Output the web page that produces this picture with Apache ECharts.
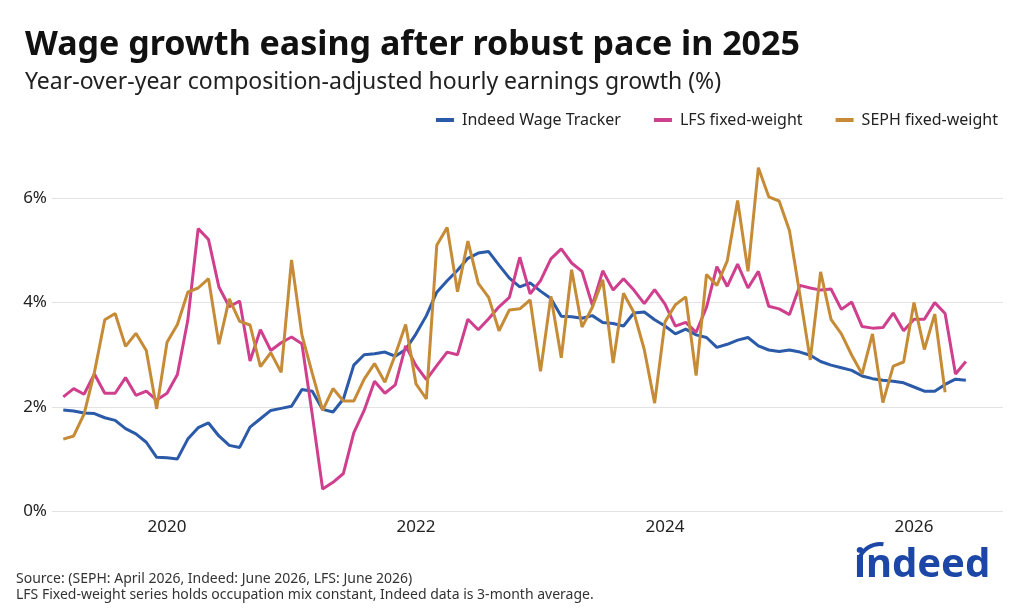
<!DOCTYPE html>
<html>
<head>
<meta charset="utf-8">
<script src="https://cdn.jsdelivr.net/npm/echarts@6/dist/echarts.min.js"></script>
<style>
html,body{margin:0;padding:0;background:#fff;}
#chart{width:1024px;height:614px;}
</style>
</head>
<body>
<div id="chart"></div>
<script>
// Monthly series, first value = March 2019
const startYear = 2019;
const startMonth = 3;

const indeedWage = [1.94,1.92,1.88,1.87,1.79,1.74,1.58,1.48,1.32,1.03,1.02,1.00,
  1.38,1.60,1.69,1.44,1.26,1.22,1.61,1.77,1.93,1.97,2.01,2.33,
  2.30,1.95,1.90,2.15,2.80,3.00,3.02,3.05,2.97,3.10,3.40,3.75,
  4.20,4.42,4.62,4.85,4.95,4.98,4.72,4.47,4.30,4.38,4.22,4.08,
  3.74,3.73,3.70,3.75,3.62,3.60,3.55,3.80,3.82,3.67,3.55,3.40,
  3.49,3.38,3.33,3.14,3.20,3.28,3.33,3.17,3.09,3.06,3.09,3.05,
  2.99,2.87,2.80,2.75,2.70,2.59,2.54,2.51,2.49,2.46,2.38,2.30,
  2.30,2.43,2.53,2.51];

const lfsFixed = [2.19,2.35,2.24,2.63,2.26,2.26,2.56,2.22,2.30,2.13,2.26,2.62,
  3.66,5.42,5.21,4.30,3.92,4.03,2.88,3.48,3.08,3.23,3.34,3.21,
  1.85,0.42,0.55,0.72,1.50,1.93,2.49,2.26,2.42,3.17,2.79,2.52,
  2.79,3.05,3.00,3.68,3.48,3.69,3.92,4.10,4.87,4.17,4.42,4.84,
  5.03,4.76,4.60,3.95,4.61,4.24,4.46,4.24,3.98,4.25,3.97,3.55,
  3.62,3.43,3.91,4.69,4.31,4.74,4.28,4.60,3.93,3.88,3.77,4.33,
  4.28,4.24,4.26,3.87,4.01,3.54,3.51,3.52,3.80,3.46,3.68,3.68,
  4.00,3.79,2.63,2.87];

const sephFixed = [1.38,1.44,1.86,2.66,3.67,3.79,3.16,3.41,3.08,1.96,3.24,3.58,
  4.20,4.28,4.46,3.20,4.07,3.64,3.57,2.77,3.04,2.66,4.82,3.38,
  2.64,1.93,2.35,2.11,2.11,2.53,2.83,2.47,3.00,3.58,2.44,2.15,
  5.10,5.44,4.21,5.18,4.37,4.10,3.46,3.86,3.88,4.05,2.68,4.12,
  2.94,4.63,3.53,3.91,4.44,2.84,4.18,3.81,3.10,2.07,3.63,3.96,
  4.11,2.60,4.54,4.33,4.80,5.96,4.60,6.59,6.03,5.95,5.38,4.15,
  2.90,4.59,3.68,3.40,2.99,2.63,3.40,2.08,2.78,2.86,4.00,3.10,
  3.78,2.28];

const seriesNames = ['Indeed Wage Tracker', 'LFS fixed-weight', 'SEPH fixed-weight'];
const yearTicks = [2020, 2022, 2024, 2026];

function toX(i) { return startYear + (startMonth - 1 + i) / 12; }
function pairs(arr) { return arr.map((v, i) => [toX(i), v]); }

const FONT = '"Noto Sans", sans-serif';
const colors = ['#2a5aa8', '#cf3f8d', '#c68b36'];

const chart = echarts.init(document.getElementById('chart'), null, {renderer: 'canvas'});
chart.setOption({
  animation: false,
  backgroundColor: '#ffffff',
  textStyle: {fontFamily: FONT},
  title: [
    {text: 'Wage growth easing after robust pace in 2025', left: 20, top: 19,
     textStyle: {fontSize: 34, fontWeight: 'bold', color: '#111', fontFamily: FONT, lineHeight: 42}},
    {text: 'Year-over-year composition-adjusted hourly earnings growth (%)', left: 20, top: 62,
     textStyle: {fontSize: 23, fontWeight: 'normal', color: '#222', fontFamily: FONT, lineHeight: 30}},
    {text: 'Source: (SEPH: April 2026, Indeed: June 2026, LFS: June 2026)\nLFS Fixed-weight series holds occupation mix constant, Indeed data is 3-month average.',
     left: 11, top: 566,
     textStyle: {fontSize: 14, fontWeight: 'normal', color: '#333', fontFamily: FONT, lineHeight: 16}}
  ],
  legend: {
    data: seriesNames,
    right: 21, top: 107,
    icon: 'rect', itemWidth: 18, itemHeight: 4, itemGap: 33,
    textStyle: {fontSize: 16, color: '#222', fontFamily: FONT, padding: [0, 0, 0, 3]}
  },
  grid: {left: 52, right: 21, top: 198.4, bottom: 103},
  xAxis: {
    type: 'value',
    min: 2019.076, max: 2026.715,
    axisLine: {show: false}, axisTick: {show: false}, splitLine: {show: false},
    axisLabel: {customValues: yearTicks, formatter: v => String(Math.round(v)),
      fontSize: 17, color: '#222', margin: 8, fontFamily: FONT}
  },
  yAxis: {
    type: 'value', min: 0, max: 6, interval: 2,
    axisLine: {show: false}, axisTick: {show: false},
    axisLabel: {formatter: '{value}%', fontSize: 17, color: '#222', margin: 5, fontFamily: FONT},
    splitLine: {lineStyle: {color: '#e3e3e3', width: 1}}
  },
  series: [
    {name: seriesNames[0], type: 'line', data: pairs(indeedWage), showSymbol: false, symbol: 'none',
     clip: false, lineStyle: {width: 3, color: colors[0]}, itemStyle: {color: colors[0]}, z: 3},
    {name: seriesNames[1], type: 'line', data: pairs(lfsFixed), showSymbol: false, symbol: 'none',
     clip: false, lineStyle: {width: 3, color: colors[1]}, itemStyle: {color: colors[1]}, z: 4},
    {name: seriesNames[2], type: 'line', data: pairs(sephFixed), showSymbol: false, symbol: 'none',
     clip: false, lineStyle: {width: 3, color: colors[2]}, itemStyle: {color: colors[2]}, z: 5}
  ],
  graphic: [
    {type: 'text', left: 854, top: 546,
     style: {text: 'indeed', font: 'bold 40px "Noto Sans", sans-serif', fill: '#1d47a6'}},
    {type: 'arc', shape: {cx: 880, cy: 566, r: 22, startAngle: Math.PI * 1.1, endAngle: Math.PI * 1.55},
     style: {stroke: '#1d47a6', lineWidth: 4, fill: 'none'}}
  ]
});
</script>
</body>
</html>
